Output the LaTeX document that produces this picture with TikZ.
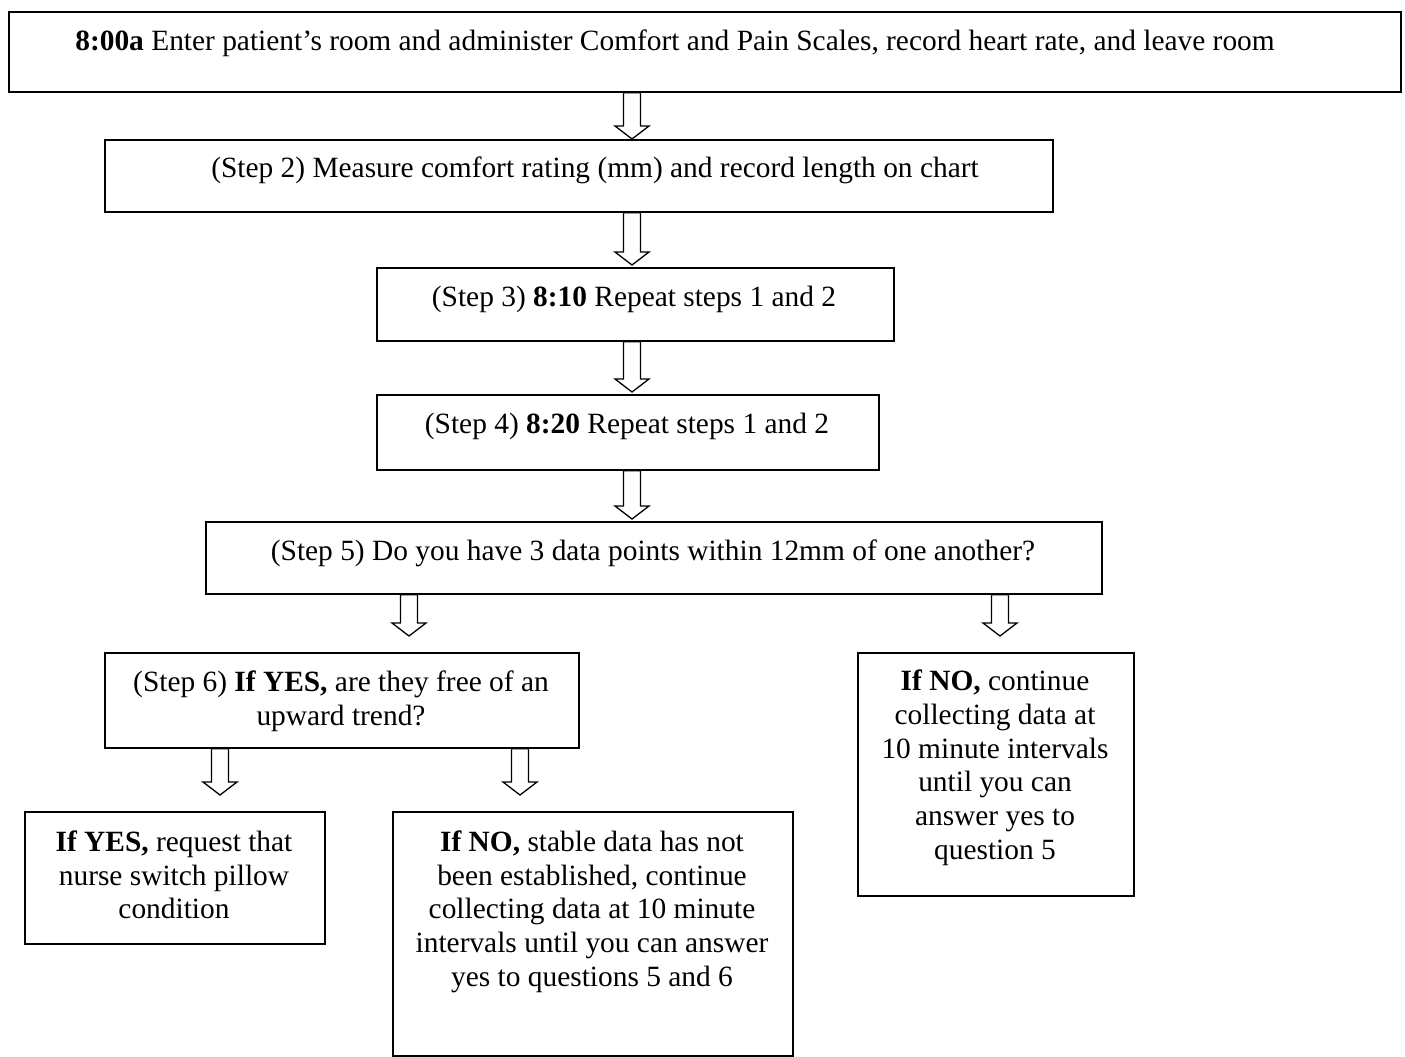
\documentclass[tikz,border=0pt]{standalone}
\usepackage{fontspec}
\setmainfont{Liberation Serif}
\usetikzlibrary{calc}
\tikzset{
  boxnode/.style={draw, line width=1.7pt, inner sep=0pt, anchor=north west},
  txt/.style={align=center, inner sep=0pt, anchor=north, font=\fontsize{29.4pt}{33.7pt}\selectfont},
  blockarrow/.style={draw, fill=white, line width=1.3pt, line join=miter}
}
% #1 start (top centre), #2 tip
\newcommand\barrow[2]{%
  \draw[blockarrow] let \p1=(#1), \p2=(#2) in
    (\x1-8.5pt,\y1) -- (\x1+8.5pt,\y1) -- (\x1+8.5pt,\y2+13pt) -- (\x1+17pt,\y2+13pt)
    -- (\x1,\y2) -- (\x1-17pt,\y2+13pt) -- (\x1-8.5pt,\y2+13pt) -- cycle;}
\begin{document}
\begin{tikzpicture}[x=1pt,y=-1pt]
\useasboundingbox (0,0) rectangle (1405,1057);
% boxes
\node[boxnode, minimum width=1392pt, minimum height=80pt] (b1) at (8,11) {};
\node[boxnode, minimum width=948pt, minimum height=72pt] (b2) at (104,139) {};
\node[boxnode, minimum width=517pt, minimum height=73pt] (b3) at (376,267) {};
\node[boxnode, minimum width=502pt, minimum height=75pt] (b4) at (376,394) {};
\node[boxnode, minimum width=896pt, minimum height=72pt] (b5) at (205,521) {};
\node[boxnode, minimum width=474pt, minimum height=95pt] (b6) at (104,652) {};
\node[boxnode, minimum width=276pt, minimum height=243pt] (b7) at (857,652) {};
\node[boxnode, minimum width=300pt, minimum height=132pt] (b8) at (24,811) {};
\node[boxnode, minimum width=400pt, minimum height=244pt] (b9) at (392,811) {};
% texts (first baseline about top + 39)
\node[txt] (t1) at (675,27) {\strut\textbf{8:00a} Enter patient’s room and administer Comfort and Pain Scales, record heart rate, and leave room};
\node[txt] (t2) at (595,154) {\strut(Step 2) Measure comfort rating (mm) and record length on chart};
\node[txt] (t3) at (634,282.5) {\strut(Step 3) \textbf{8:10} Repeat steps 1 and 2};
\node[txt] (t4) at (627,409.5) {\strut(Step 4) \textbf{8:20} Repeat steps 1 and 2};
\node[txt] (t5) at (653,536.5) {\strut(Step 5) Do you have 3 data points within 12mm of one another?};
\node[txt] (t6) at (341,668) {\strut(Step 6) \textbf{If YES,} are they free of an\\\strut upward trend?};
\node[txt] (t7) at (995,667) {\strut\textbf{If NO,} continue\\\strut collecting data at\\\strut 10 minute intervals\\\strut until you can\\\strut answer yes to\\\strut question 5};
\node[txt] (t8) at (174,827.5) {\strut\textbf{If YES,} request that\\\strut nurse switch pillow\\\strut condition};
\node[txt] (t9) at (592,827.5) {\strut\textbf{If NO,} stable data has not\\\strut been established, continue\\\strut collecting data at 10 minute\\\strut intervals until you can answer\\\strut yes to questions 5 and 6};
% block arrows
\barrow{b1.south -| 632,0}{b2.north -| 632,0}
\barrow{b2.south -| 632,0}{$(b3.north -| 632,0)+(0,-2)$}
\barrow{b3.south -| 632,0}{$(b4.north -| 632,0)+(0,-2)$}
\barrow{b4.south -| 632,0}{$(b5.north -| 632,0)+(0,-2)$}
\barrow{b5.south -| 409,0}{$(b6.north -| 409,0)+(0,-16)$}
\barrow{b5.south -| 1000,0}{$(b7.north -| 1000,0)+(0,-16)$}
\barrow{b6.south -| 220,0}{$(b8.north -| 220,0)+(0,-16)$}
\barrow{b6.south -| 520,0}{$(b9.north -| 520,0)+(0,-16)$}
\end{tikzpicture}
\end{document}
